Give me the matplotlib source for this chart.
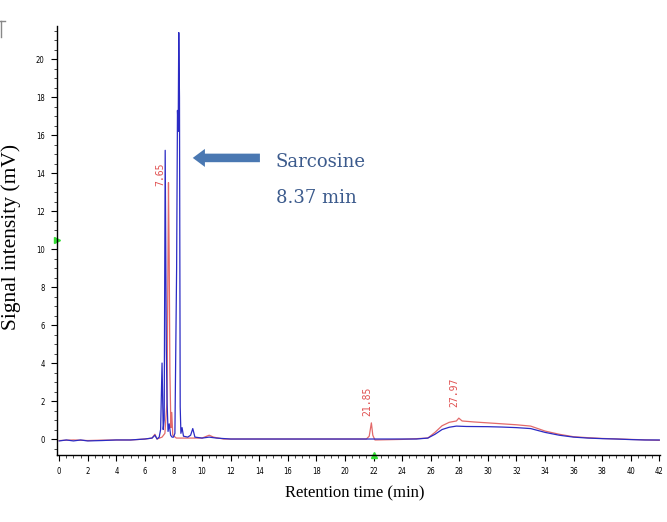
import matplotlib
matplotlib.use("Agg")
import matplotlib.pyplot as plt
from matplotlib.ticker import MultipleLocator
from matplotlib.patches import FancyArrow
from matplotlib.lines import Line2D

# ---- data (retention time in min, signal in mV) ----
blue_t = [0, 0.5, 1, 1.5, 2, 3, 4, 5, 6, 6.5, 6.7, 6.85, 7.0, 7.1, 7.2, 7.28, 7.35,
          7.42, 7.5, 7.55, 7.62, 7.7, 7.8, 7.9, 8.0, 8.1, 8.22, 8.28, 8.33, 8.37, 8.42,
          8.47, 8.52, 8.6, 8.7, 9.0, 9.2, 9.35, 9.5, 10, 10.5, 11, 12, 14, 16, 18, 20,
          22, 24, 25, 25.8, 26.3, 26.8, 27.3, 27.8, 28.5, 30, 31, 32, 33, 33.5, 34, 35,
          36, 37, 38, 39, 40, 41, 42]
blue_v = [-0.1, -0.05, -0.1, -0.05, -0.1, -0.08, -0.05, -0.05, 0.0, 0.05, 0.2, 0.0,
          0.1, 0.5, 4.0, 0.5, 1.0, 15.2, 4.7, 2.0, 0.4, 0.8, 0.2, 0.1, 0.1, 0.3, 9.0,
          17.3, 16.2, 21.4, 18.0, 1.7, 0.3, 0.6, 0.15, 0.1, 0.2, 0.55, 0.1, 0.05, 0.1,
          0.05, 0.0, 0.0, 0.0, 0.0, 0.0, 0.0, 0.0, 0.0, 0.05, 0.25, 0.5, 0.62, 0.68,
          0.66, 0.65, 0.63, 0.6, 0.55, 0.45, 0.35, 0.2, 0.1, 0.05, 0.02, 0.0, -0.03,
          -0.05, -0.05]

red_t = [0, 1, 2, 3, 4, 5, 6, 6.5, 6.7, 6.85, 7.2, 7.4, 7.55, 7.62, 7.65, 7.7, 7.75,
         7.82, 7.88, 7.95, 8.2, 9, 10, 10.5, 10.8, 11.5, 14, 18, 21.5, 21.7, 21.85,
         21.95, 22.1, 24, 25.8, 26.3, 26.8, 27.3, 27.8, 27.97, 28.2, 29, 30, 31, 32,
         33, 33.5, 34, 35, 36, 37, 38, 40, 42]
red_v = [-0.08, -0.05, -0.08, -0.06, -0.05, -0.05, 0.0, 0.05, 0.25, 0.0, 0.1, 0.3,
         2.0, 10.0, 13.5, 9.5, 3.5, 0.6, 1.4, 0.2, 0.05, 0.05, 0.05, 0.2, 0.1, 0.0,
         0.0, 0.0, 0.0, 0.15, 0.85, 0.2, -0.05, -0.02, 0.05, 0.35, 0.7, 0.88, 0.95,
         1.1, 0.95, 0.9, 0.85, 0.8, 0.75, 0.68, 0.55, 0.42, 0.25, 0.12, 0.07, 0.03,
         -0.02, -0.07]

peak_labels = ["7.65", "21.85", "27.97"]
peak_label_t = [7.65, 21.85, 27.97]

x_ticks = list(range(0, 43, 2))
y_ticks = list(range(0, 21, 2))

# ---- figure ----
fig = plt.figure(figsize=(6.67, 5.22), dpi=100)
ax = fig.add_axes([0.0855, 0.1284, 0.904, 0.8216])

ax.plot(red_t, red_v, color="#e36a6a", lw=0.9)
ax.plot(blue_t, blue_v, color="#2b2bc4", lw=0.9)

ax.set_xlim(-0.15, 42.05)
ax.set_ylim(-0.84, 21.74)

for s in ("top", "right"):
    ax.spines[s].set_visible(False)
for s in ("left", "bottom"):
    ax.spines[s].set_linewidth(1.0)
    ax.spines[s].set_color("black")

ax.set_xticks(x_ticks)
ax.set_yticks(y_ticks)
ax.xaxis.set_minor_locator(MultipleLocator(0.5))
ax.yaxis.set_minor_locator(MultipleLocator(0.5))
ax.tick_params(axis="both", which="major", length=4, width=0.8, labelsize=5.5,
               direction="out", pad=5)
ax.tick_params(axis="both", which="minor", length=2, width=0.5, direction="out")
for lab in ax.get_xticklabels() + ax.get_yticklabels():
    lab.set_fontstretch("condensed")

# axis titles
fig.text(355 / 667, 1 - 493 / 522, "Retention time (min)", family="Liberation Serif",
         fontsize=12, ha="center", va="center")
fig.text(11 / 667, 1 - 237 / 522, "Signal intensity (mV)", family="Liberation Serif",
         fontsize=15.5, ha="center", va="center", rotation=90)

# peak labels
label_y = [13.3, 1.2, 1.7]
label_dx = [-0.55, -0.3, -0.3]
for txt, t, yv, dx in zip(peak_labels, peak_label_t, label_y, label_dx):
    ax.text(t + dx, yv, txt, rotation=90, color="#e05050", fontsize=7,
            family="DejaVu Sans Mono", ha="center", va="bottom")

# annotation arrow and text
ax.add_patch(FancyArrow(14.05, 14.8, -4.7, 0, width=0.45, head_width=0.95,
                        head_length=0.85, length_includes_head=True,
                        color="#4a78b2", lw=0))
ax.text(15.15, 14.6, "Sarcosine", family="DejaVu Serif", fontsize=13,
        color="#3b5a8c", va="center", ha="left")
ax.text(15.15, 12.7, "8.37 min", family="DejaVu Serif", fontsize=13,
        color="#3b5a8c", va="center", ha="left")

# green markers
ax.plot([-0.15], [10.5], marker=">", color="#33dd33", ms=4, clip_on=False)
ax.plot([22.0], [-0.84], marker="^", color="#33dd33", ms=4, clip_on=False)

# small grey corner mark at top left
fig.add_artist(Line2D([0.0015, 0.0015], [1 - 21 / 522, 1 - 37 / 522],
                      color="#888888", lw=1.0))
fig.add_artist(Line2D([0.0, 0.008], [1 - 21 / 522, 1 - 21 / 522],
                      color="#888888", lw=1.0))

fig.savefig("out.png", dpi=100)
